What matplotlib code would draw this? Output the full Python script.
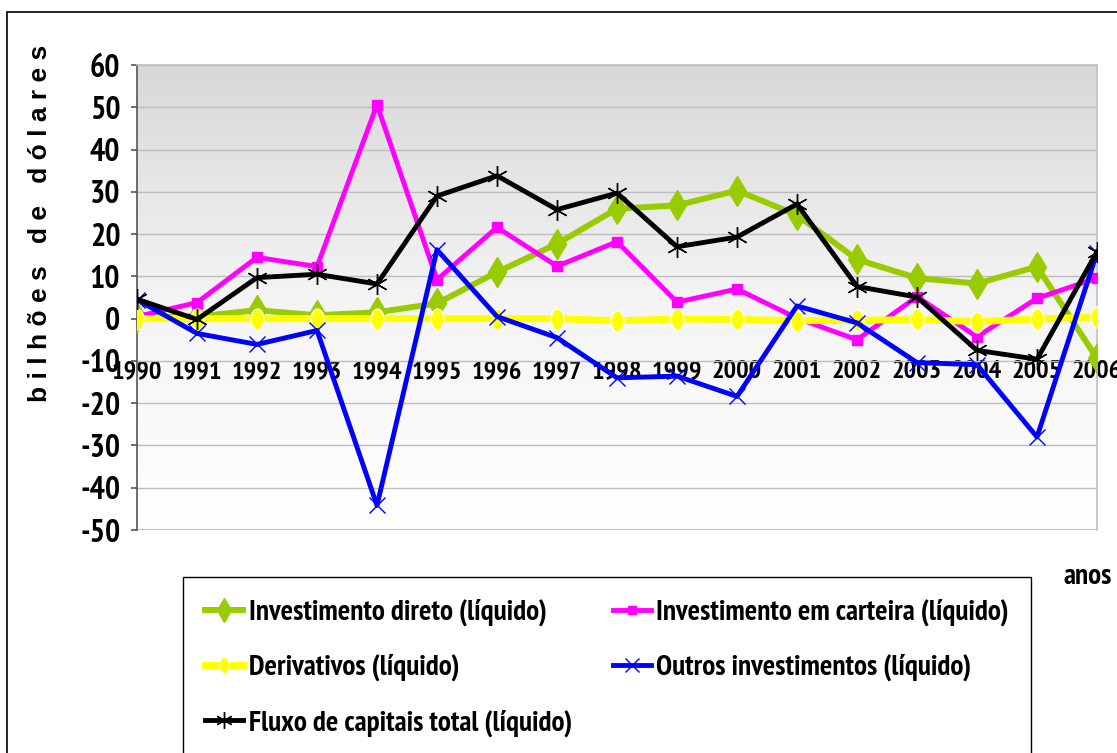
import numpy as np
import matplotlib
matplotlib.use("Agg")
import matplotlib.pyplot as plt
from matplotlib.path import Path
from matplotlib.colors import LinearSegmentedColormap
from matplotlib.patches import Rectangle

years = list(range(1990, 2007))
investimento_direto = [0.3, 0.5, 2.0, 0.8, 1.5, 3.6, 11.0, 17.7, 26.0, 26.8, 30.3, 24.5, 14.0, 9.6, 8.3, 12.3, -9.4]
investimento_carteira = [0.5, 3.8, 14.5, 12.3, 50.6, 9.2, 21.6, 12.4, 18.2, 3.9, 7.0, 0.1, -5.0, 5.2, -4.3, 4.8, 9.6]
derivativos = [0.0, 0.0, 0.0, 0.0, 0.0, 0.0, 0.0, 0.0, -0.5, -0.1, -0.2, -0.5, -0.4, -0.2, -0.7, -0.1, 0.4]
outros_investimentos = [4.5, -3.5, -6.1, -2.8, -44.2, 16.3, 0.5, -4.5, -14.0, -13.6, -18.4, 3.0, -1.0, -10.4, -10.9, -28.0, 15.6]
fluxo_total = [4.6, -0.2, 9.7, 10.5, 8.2, 29.0, 33.8, 25.8, 29.7, 17.0, 19.3, 27.1, 7.6, 5.1, -7.5, -9.6, 15.8]

labels = ["Investimento direto (líquido)", "Investimento em carteira (líquido)",
          "Derivativos (líquido)", "Outros investimentos (líquido)",
          "Fluxo de capitais total (líquido)"]
yticks = list(range(-50, 61, 10))

NARROW = ['PT Sans Narrow', 'Liberation Sans', 'DejaVu Sans']
WIDE = ['Liberation Sans', 'DejaVu Sans']

W, H = 1117, 753
fig = plt.figure(figsize=(W / 100, H / 100), dpi=100)
ax = fig.add_axes([137 / W, 1 - 530 / H, (1097 - 137) / W, (530 - 65) / H])

# gradient background
cmap = LinearSegmentedColormap.from_list("bg", ["#ffffff", "#f4f4f4", "#d9d8d8"])
grad = np.linspace(0, 1, 256).reshape(-1, 1)
ax.imshow(grad, extent=[1990, 2006, -50, 60], origin="lower", aspect="auto",
          cmap=cmap, zorder=0, interpolation="bicubic")

ell = Path.unit_circle()
ell = Path(ell.vertices * np.array([0.62, 1.0]), ell.codes)

ax.plot(years, investimento_direto, color="#99CC00", lw=4.3, marker="d", ms=15,
        mfc="#99CC00", mec="#99CC00", zorder=3, label=labels[0])
ax.plot(years, investimento_carteira, color="#FF00FF", lw=3.5, marker="s", ms=7,
        mfc="#FF00FF", mec="#FF00FF", zorder=4, label=labels[1])
ax.plot(years, derivativos, color="#FFFF00", lw=5, marker=ell, ms=15,
        mfc="#FFFF00", mec="white", mew=1, zorder=5, label=labels[2])
ax.plot(years, outros_investimentos, color="#0000FF", lw=3.5, marker="x", ms=12,
        mec="#0000FF", mew=1, zorder=6, label=labels[3])
ax.plot(years, fluxo_total, color="black", lw=3.5, marker=(6, 2, 0), ms=15,
        mec="black", mew=1, zorder=7, label=labels[4])

ax.set_xlim(1990, 2006)
ax.set_ylim(-50, 60)
ax.set_xticks(years)
ax.set_xticklabels([str(y) for y in years])
ax.set_yticks(yticks)
ax.set_yticklabels([str(v) for v in yticks])
ax.set_axisbelow(True)
ax.grid(axis="y", color="#bdbdbd", lw=1.0)
ax.grid(axis="x", visible=False)

for s in ["top", "right"]:
    ax.spines[s].set_color("#c0c0c0")
    ax.spines[s].set_linewidth(1.2)
ax.spines["left"].set_color("#555555")
ax.spines["left"].set_linewidth(1.2)
ax.spines["bottom"].set_position(("data", 0))
ax.spines["bottom"].set_color("#888888")
ax.spines["bottom"].set_linewidth(1.0)
ax.axhline(-50, color="#c0c0c0", lw=1.5, zorder=1)

ax.tick_params(axis="y", direction="out", length=4, width=1.2, color="#555555", pad=8)
ax.tick_params(axis="x", direction="out", length=3, width=1, color="#555555", pad=27)
for t in ax.get_yticklabels():
    t.set_fontfamily(NARROW)
    t.set_fontweight("bold")
    t.set_fontsize(23)
for t in ax.get_xticklabels():
    t.set_fontfamily(NARROW)
    t.set_fontweight("bold")
    t.set_fontsize(19)

fig.text(40 / W, 1 - 223 / H, "b i l h õ e s   d e   d ó l a r e s", rotation=90,
         ha="center", va="center", fontsize=19, fontweight="bold", family=WIDE)
fig.text(1063 / W, 1 - 577 / H, "anos", ha="left", va="center", fontsize=21,
         fontweight="bold", family=NARROW)

h, l = ax.get_legend_handles_labels()
order = [0, 2, 4, 1, 3]
leg = fig.legend([h[i] for i in order], [l[i] for i in order], ncol=2,
                 loc="upper left", bbox_to_anchor=(183 / W, 1 - 577 / H),
                 prop={"family": NARROW, "weight": "bold", "size": 21},
                 frameon=True, fancybox=False, edgecolor="black", framealpha=1,
                 handlelength=1.3, handletextpad=0.2, labelspacing=0.95,
                 columnspacing=1.4, borderpad=0.75, borderaxespad=0,
                 markerscale=0.8)
leg.get_frame().set_linewidth(1.0)

fig.patches.append(Rectangle((7 / W, -0.05), 1.2, 1 - 12 / H + 0.05,
                             transform=fig.transFigure, fill=False,
                             edgecolor="black", lw=1.2))

fig.savefig("out.png", dpi=100)
